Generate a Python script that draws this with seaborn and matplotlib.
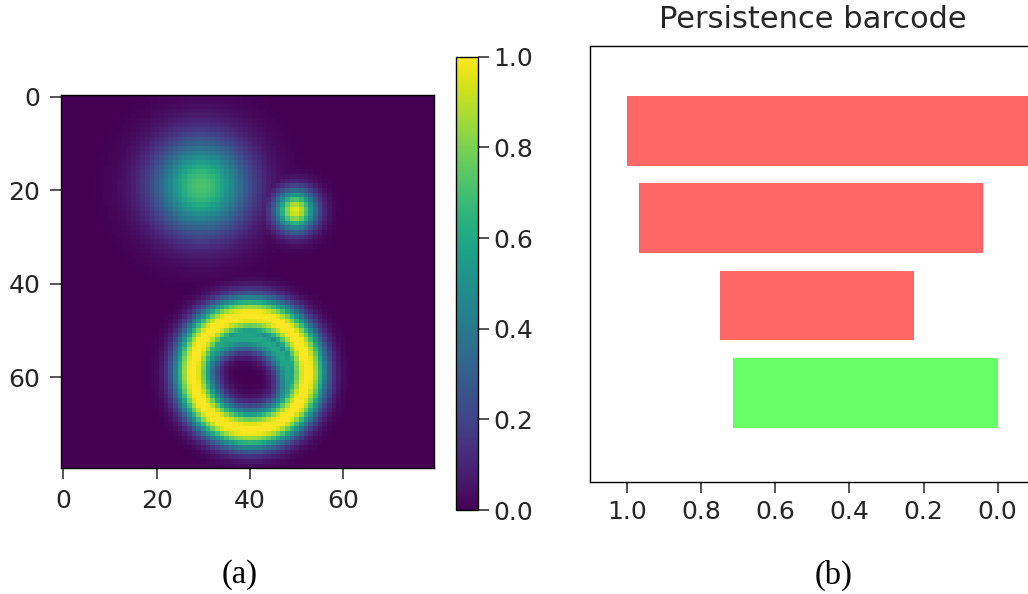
import numpy as np
import matplotlib
matplotlib.use("Agg")
import matplotlib.pyplot as plt
import seaborn as sns

# ---------------- data ----------------
# image (80x80) described by gaussian blobs and gaussian rings
img_size = 80
blob_x = [29.5, 49.7]
blob_y = [19.0, 24.3]
blob_sigma = [7.0, 3.0]
blob_amp = [0.72, 0.967]

ring_x = [40.0, 38.8]
ring_y = [59.0, 61.3]
ring_radius = [12.2, 9.8]
ring_sigma = [2.9, 2.1]
ring_amp = [1.03, 0.6]

img_ticks = [0, 20, 40, 60]
cbar_ticks = [0.0, 0.2, 0.4, 0.6, 0.8, 1.0]

# persistence barcode
bar_birth = [1.0, 0.967, 0.750, 0.714]
bar_death = [-0.1, 0.039, 0.225, 0.0]   # first bar: infinite (drawn to the axis edge)
bar_dim = [0, 0, 0, 1]
bar_xticks = [1.0, 0.8, 0.6, 0.4, 0.2, 0.0]

# ---------------- build image ----------------
yy, xx = np.mgrid[0:img_size, 0:img_size]
img = np.zeros((img_size, img_size))
for cx, cy, s, a in zip(blob_x, blob_y, blob_sigma, blob_amp):
    img = np.maximum(img, a * np.exp(-((xx - cx) ** 2 + (yy - cy) ** 2) / (2 * s ** 2)))
for cx, cy, r, s, a in zip(ring_x, ring_y, ring_radius, ring_sigma, ring_amp):
    d = np.hypot(xx - cx, yy - cy)
    img = np.maximum(img, a * np.exp(-((d - r) ** 2) / (2 * s ** 2)))
img = np.clip(img, 0, 1)

# ---------------- figure ----------------
sns.set_style("ticks")
plt.rcParams["font.family"] = ["DejaVu Sans"]
text_color = "#262626"

W, H = 1028, 594
fig = plt.figure(figsize=(W / 100, H / 100), dpi=100)

ax1 = fig.add_axes([61 / W, 1 - 468.3 / H, 373.3 / W, 373.8 / H])
cax = fig.add_axes([456 / W, 1 - 510 / H, 22.3 / W, 453.3 / H])
ax2 = fig.add_axes([590 / W, 1 - 482.1 / H, (1034.8 - 590) / W, 436.3 / H])

sns.heatmap(img, ax=ax1, cbar_ax=cax, cmap="viridis", vmin=0, vmax=1,
            xticklabels=False, yticklabels=False)
ax1.set_xticks([t + 0.5 for t in img_ticks])
ax1.set_xticklabels([str(t) for t in img_ticks])
ax1.set_yticks([t + 0.5 for t in img_ticks])
ax1.set_yticklabels([str(t) for t in img_ticks], rotation=0)
for sp in ax1.spines.values():
    sp.set_visible(True)
    sp.set_color("black")
    sp.set_linewidth(1.0)
ax1.tick_params(axis="both", labelsize=18, length=8, width=1.1, pad=7,
                colors=text_color, direction="out")

cb = ax1.collections[0].colorbar
cb.set_ticks(cbar_ticks)
cb.set_ticklabels([f"{t:.1f}" for t in cbar_ticks])
cb.outline.set_visible(True)
cb.outline.set_linewidth(1.0)
cb.outline.set_edgecolor("black")
cax.tick_params(labelsize=18, length=8, width=1.1, pad=3, colors=text_color)

# barcode
colors = {0: "#FF6666", 1: "#66FF66"}
ypos = list(range(len(bar_birth)))
widths = [b - d for b, d in zip(bar_birth, bar_death)]
ax2.barh(ypos, widths, left=bar_death, height=0.8,
         color=[colors[k] for k in bar_dim], edgecolor="none")
ax2.set_xlim(1.1, -0.1)
ax2.set_ylim(4.02, -0.97)
ax2.set_yticks([])
ax2.set_xticks(bar_xticks)
ax2.set_xticklabels([f"{t:.1f}" for t in bar_xticks])
ax2.tick_params(axis="x", labelsize=18, length=8, width=1.1, pad=5, colors=text_color)
for sp in ax2.spines.values():
    sp.set_visible(True)
    sp.set_color("black")
    sp.set_linewidth(1.0)
ax2.set_title("Persistence barcode", fontsize=22, pad=12.5, color=text_color)

# captions
fig.text(240 / W, 1 - 575 / H, "(a)", ha="center", va="center",
         family=["Liberation Serif"], fontsize=23.5, color="black")
fig.text(834 / W, 1 - 575 / H, "(b)", ha="center", va="center",
         family=["Liberation Serif"], fontsize=23.5, color="black")

fig.savefig("out.png", dpi=100, facecolor="white")
